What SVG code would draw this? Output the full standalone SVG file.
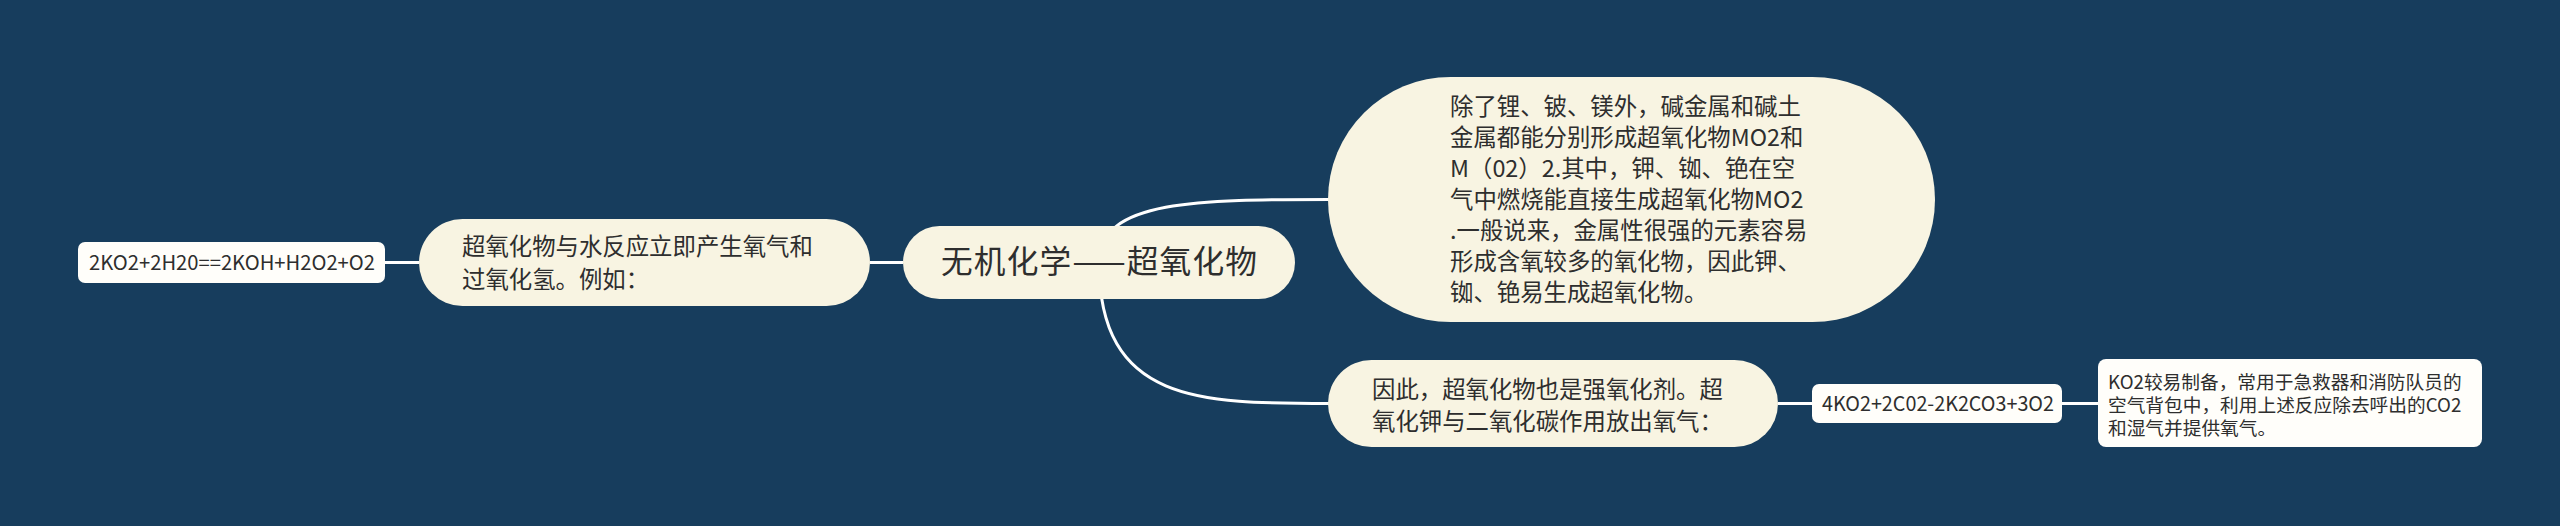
<svg xmlns="http://www.w3.org/2000/svg" width="2560" height="526" viewBox="0 0 2560 526">
<style>
  .bg{fill:#173d5d}
  .main{fill:#f8f4e2}
  .leaf{fill:#fffefa}
  .conn{fill:none;stroke:#ffffff;stroke-width:3}
  text{font-family:"Noto Sans CJK SC","Noto Sans",sans-serif;fill:#2e2e2e}
  .t1{font-size:31.7px}
  .t2{font-size:23.4px}
  .t3{font-size:18.7px}
  .t4{font-size:20px}
</style>
<rect class="bg" x="0" y="0" width="2560" height="526"/>
<g id="connectors">
  <path class="conn" d="M903,262.5 L870,262.5"/>
  <path class="conn" d="M419,262.5 L385,262.5"/>
  <path class="conn" d="M1099,262 C1099,199.5 1200,199.5 1330,199.5"/>
  <path class="conn" d="M1099,262 C1099,403.5 1200,403.5 1330,403.5"/>
  <path class="conn" d="M1778,403.5 L1812,403.5"/>
  <path class="conn" d="M2062,403.5 L2098,403.5"/>
</g>
<g id="root">
  <rect class="main" x="903" y="226" width="392" height="73" rx="36.5"/>
  <text class="t1" x="941" y="273" textLength="316" lengthAdjust="spacing">无机化学——超氧化物</text>
</g>
<g id="n-water">
  <rect class="main" x="419" y="219" width="451" height="87" rx="43.5"/>
  <text class="t2" x="462"><tspan x="462" y="255">超氧化物与水反应立即产生氧气和</tspan><tspan x="462" y="288">过氧化氢。例如：</tspan></text>
</g>
<g id="n-eq1">
  <rect class="leaf" x="78" y="242" width="307" height="41" rx="7"/>
  <text class="t4" x="89" y="270" textLength="286" lengthAdjust="spacingAndGlyphs">2KO2+2H20==2KOH+H2O2+O2</text>
</g>
<g id="n-metals">
  <rect class="main" x="1328" y="77" width="607" height="245" rx="122.5"/>
  <text class="t2" x="1450"><tspan x="1450" y="115">除了锂、铍、镁外，碱金属和碱土</tspan><tspan x="1450" y="146">金属都能分别形成超氧化物MO2和</tspan><tspan x="1450" y="177">M（02）2.其中，钾、铷、铯在空</tspan><tspan x="1450" y="208">气中燃烧能直接生成超氧化物MO2</tspan><tspan x="1450" y="239">.一般说来，金属性很强的元素容易</tspan><tspan x="1450" y="270">形成含氧较多的氧化物，因此钾、</tspan><tspan x="1450" y="301">铷、铯易生成超氧化物。</tspan></text>
</g>
<g id="n-oxidant">
  <rect class="main" x="1328" y="360" width="450" height="87" rx="43.5"/>
  <text class="t2" x="1372"><tspan x="1372" y="398">因此，超氧化物也是强氧化剂。超</tspan><tspan x="1372" y="430">氧化钾与二氧化碳作用放出氧气：</tspan></text>
</g>
<g id="n-eq2">
  <rect class="leaf" x="1812" y="384" width="250" height="39" rx="7"/>
  <text class="t4" x="1822" y="411" textLength="232" lengthAdjust="spacingAndGlyphs">4KO2+2C02-2K2CO3+3O2</text>
</g>
<g id="n-use">
  <rect class="leaf" x="2098" y="359" width="384" height="88" rx="8"/>
  <text class="t3" x="2108"><tspan x="2108" y="389">KO2较易制备，常用于急救器和消防队员的</tspan><tspan x="2108" y="412">空气背包中，利用上述反应除去呼出的CO2</tspan><tspan x="2108" y="435">和湿气并提供氧气。</tspan></text>
</g>
</svg>
